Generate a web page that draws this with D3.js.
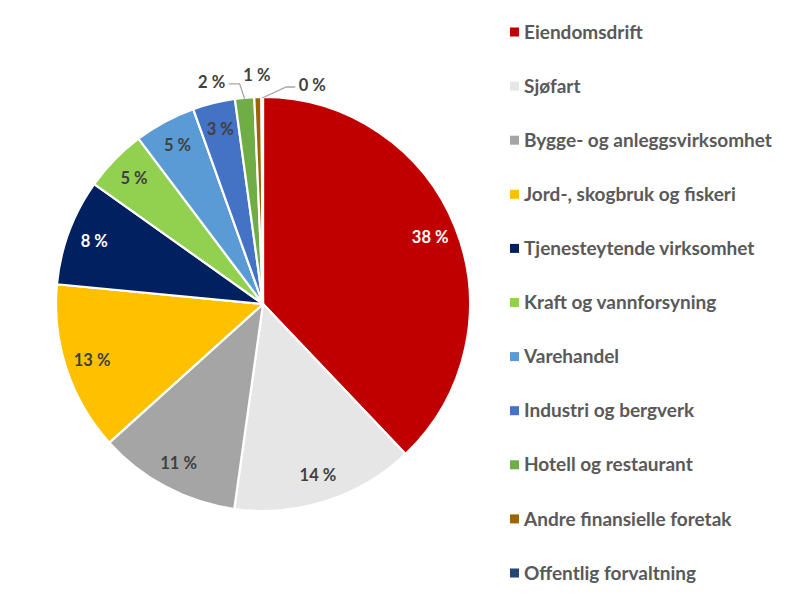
<!DOCTYPE html>
<html><head><meta charset="utf-8">
<script src="https://cdn.jsdelivr.net/npm/d3@7/dist/d3.min.js"></script>
<style>body{margin:0;background:#fff}svg{display:block}</style>
</head><body>
<svg id="c" width="812" height="609"></svg>
<script>
const categories = ["Eiendomsdrift","Sjøfart","Bygge- og anleggsvirksomhet","Jord-, skogbruk og fiskeri","Tjenesteytende virksomhet","Kraft og vannforsyning","Varehandel","Industri og bergverk","Hotell og restaurant","Andre finansielle foretak","Offentlig forvaltning"];
const values = [37.9, 14.3, 11.1, 13.2, 8.3, 4.9, 4.8, 3.3, 1.5, 0.55, 0.12];
const labels = ["38 %","14 %","11 %","13 %","8 %","5 %","5 %","3 %","2 %","1 %","0 %"];
const colors = ["#C00000","#E7E6E6","#A5A5A5","#FFC000","#002060","#92D050","#5B9BD5","#4472C4","#70AD47","#9C6500","#264478"];
const labelColors = ["#fff","#404040","#404040","#404040","#fff","#404040","#404040","#404040","#404040","#404040","#404040"];

const svg = d3.select("#c");
const cx = 263, cy = 304, R = 207;
const g = svg.append("g").attr("transform", `translate(${cx},${cy})`);
const pie = d3.pie().sort(null).value(d => d);
const arcs = pie(values);
const arc = d3.arc().innerRadius(0).outerRadius(R);
g.selectAll("path").data(arcs).join("path")
  .attr("d", arc).attr("fill", (d,i) => colors[i])
  .attr("stroke", "#fff").attr("stroke-width", 2.2).attr("stroke-linejoin","round");

const font = "Lato, 'Open Sans', sans-serif";
const labelArc = d3.arc().innerRadius(180).outerRadius(180);
arcs.forEach((d,i) => {
  if (i >= 8) return;
  const [x,y] = labelArc.centroid(d);
  g.append("text").attr("x", x).attr("y", y).attr("dy","0.35em")
    .attr("text-anchor","middle").attr("font-family", font).attr("font-weight",700)
    .attr("font-size", 16.5).attr("fill", labelColors[i]).text(labels[i]);
});
// outside labels for tiny slices (offsets from slice edge point)
const outside = {8: {dx:-33, dy:-17, line:true}, 9: {dx:-1, dy:-23, line:false}, 10: {dx:50, dy:-13, line:true}};
Object.keys(outside).forEach(k => {
  const i = +k, o = outside[k], d = arcs[i];
  const a = (d.startAngle + d.endAngle)/2;
  const ex = Math.sin(a)*(R-1), ey = -Math.cos(a)*(R-1);
  const tx = ex + o.dx, ty = ey + o.dy;
  if (o.line) {
    const dir = Math.sign(o.dx);
    const lx = tx - dir*17, ly = ty + 2;
    g.append("path").attr("d", `M${lx},${ly}L${lx + (dir<0?11:-9)},${ly}L${ex},${ey}`)
      .attr("fill","none").attr("stroke","#A6A6A6").attr("stroke-width",1.3);
  }
  g.append("text").attr("x", tx).attr("y", ty).attr("dy","0.35em")
    .attr("text-anchor","middle").attr("font-family", font).attr("font-weight",700)
    .attr("font-size", 16.5).attr("fill", "#404040").text(labels[i]);
});

// legend
const ly = d3.scalePoint().domain(categories).range([32, 573]);
const leg = svg.append("g");
categories.forEach((c,i) => {
  leg.append("rect").attr("x", 510).attr("y", ly(c)-4.5).attr("width", 9).attr("height", 9).attr("fill", colors[i]);
  leg.append("text").attr("x", 524).attr("y", ly(c)).attr("dy","0.35em")
    .attr("font-family", font).attr("font-weight",700).attr("font-size", 19)
    .attr("fill","#595959").text(c);
});
</script>
</body></html>
